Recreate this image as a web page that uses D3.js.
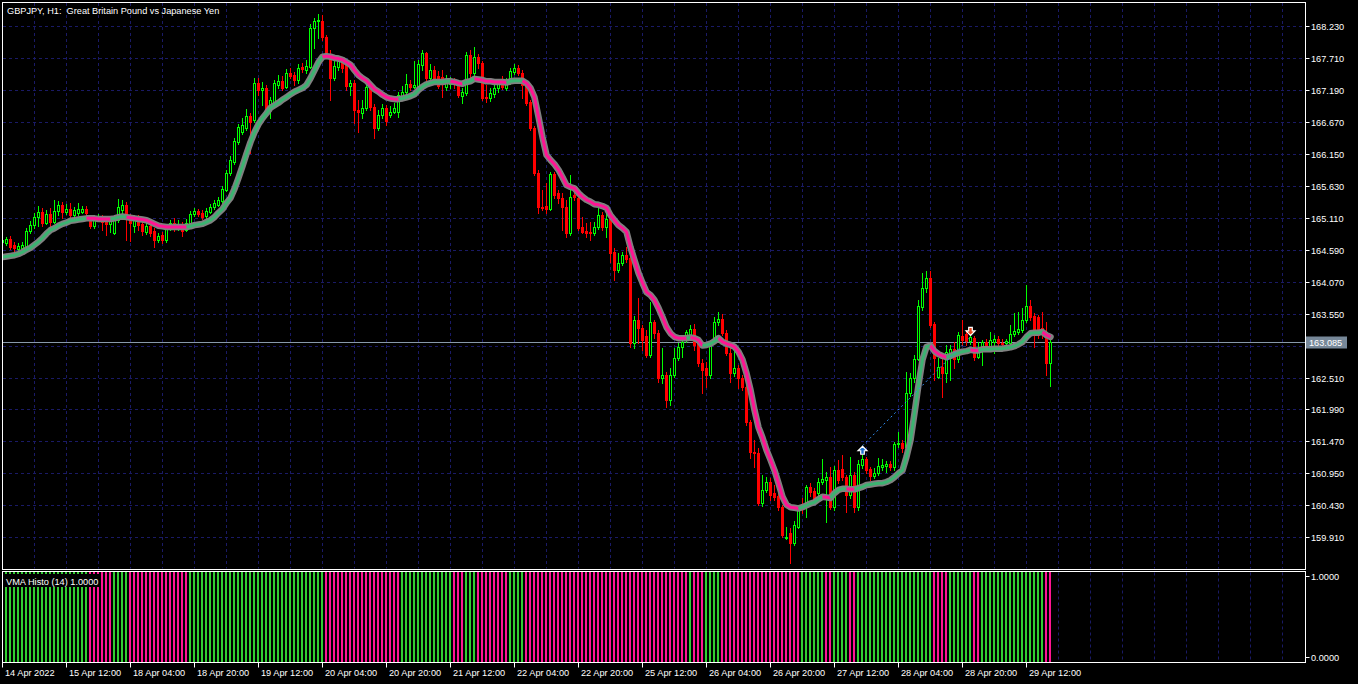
<!DOCTYPE html>
<html><head><meta charset="utf-8">
<script src="https://cdn.jsdelivr.net/npm/d3@7"></script>
<style>html,body{margin:0;padding:0;background:#000;overflow:hidden}text{font-family:"Liberation Sans",Arial,sans-serif;font-size:9.2px;fill:#fff;white-space:pre}</style>
</head><body><svg id="c" width="1358" height="684"></svg>
<script>
const symbolTitle = "GBPJPY, H1:  Great Britain Pound vs Japanese Yen";
const indicatorTitle = "VMA Histo (14) 1.0000";
const opens = [
164.72,164.70,164.76,164.67,164.60,164.62,164.62,164.89,164.99,165.12,
165.20,165.02,165.17,165.04,165.22,165.32,165.20,165.25,165.15,165.18,
165.20,165.25,165.12,164.98,165.10,165.12,165.04,165.01,164.86,165.07,
165.24,165.32,165.12,164.98,165.09,165.01,164.88,164.98,164.89,164.75,
164.83,164.75,164.96,165.02,164.94,164.99,164.91,165.02,165.17,165.22,
165.19,165.14,165.20,165.29,165.32,165.38,165.56,165.84,166.02,166.34,
166.51,166.57,166.77,166.70,167.30,167.19,167.22,166.86,166.99,167.27,
167.33,167.24,167.47,167.43,167.35,167.56,167.51,167.56,168.20,168.31,
168.31,168.05,167.77,167.38,167.56,167.66,167.60,167.25,167.30,166.86,
166.81,166.90,167.24,166.91,166.57,166.78,166.90,166.78,166.83,166.83,
167.09,167.16,167.29,167.24,167.25,167.60,167.79,167.38,167.51,167.42,
167.40,167.24,167.29,167.32,167.27,167.09,167.14,167.76,167.47,167.73,
167.63,167.07,167.06,167.12,167.22,167.32,167.22,167.32,167.48,167.55,
167.47,167.27,166.99,166.57,165.84,165.29,165.30,165.25,165.82,165.51,
165.43,165.29,164.86,165.48,165.43,164.96,164.89,164.88,164.86,164.96,
165.15,164.96,165.10,164.55,164.26,164.37,164.50,164.45,163.07,163.45,
163.32,163.19,162.88,163.41,163.23,162.50,162.55,162.14,162.55,162.83,
163.01,163.12,163.20,163.30,163.07,162.75,162.67,162.55,163.12,163.41,
163.46,163.23,162.91,162.58,162.67,162.50,162.36,161.79,161.30,161.28,
160.47,160.68,160.81,160.63,160.58,160.40,159.90,159.98,159.82,160.08,
160.40,160.40,160.73,160.66,160.63,160.81,160.84,160.89,160.40,161.00,
161.02,160.89,160.60,160.92,160.40,161.09,161.18,161.02,160.91,160.96,
161.05,161.07,161.10,161.05,161.43,161.44,161.38,162.26,162.50,162.81,
163.66,163.97,164.13,163.38,162.52,162.68,162.58,162.91,162.97,162.81,
163.19,163.22,163.11,163.15,162.84,162.96,163.09,163.01,163.09,163.14,
163.07,163.07,163.07,163.22,163.25,163.28,163.45,163.67,163.51,163.49,
163.32,163.22,162.75];
const highs = [
164.78,164.80,164.81,164.72,164.70,164.72,164.94,165.06,165.19,165.30,
165.27,165.24,165.27,165.40,165.38,165.37,165.33,165.35,165.29,165.35,
165.30,165.30,165.15,165.15,165.17,165.15,165.10,165.14,165.10,165.41,
165.40,165.37,165.17,165.15,165.15,165.07,165.04,165.04,164.94,164.86,
164.88,165.01,165.07,165.10,165.07,165.04,165.09,165.22,165.27,165.25,
165.24,165.27,165.33,165.40,165.45,165.63,165.89,166.11,166.41,166.64,
166.73,166.88,166.81,167.38,167.38,167.32,167.27,167.07,167.35,167.43,
167.42,167.53,167.55,167.48,167.61,167.63,167.68,168.26,168.36,168.43,
168.41,168.08,167.84,167.68,167.74,167.71,167.64,167.35,167.35,167.03,
167.03,167.29,167.29,166.96,166.86,166.96,166.94,166.93,166.98,167.16,
167.25,167.45,167.35,167.66,167.68,167.84,167.81,167.61,167.58,167.50,
167.51,167.43,167.40,167.38,167.35,167.22,167.81,167.84,167.89,167.77,
167.66,167.27,167.22,167.29,167.37,167.42,167.38,167.55,167.61,167.60,
167.51,167.32,167.03,166.60,165.89,165.56,165.68,165.85,165.85,165.56,
165.51,165.40,165.80,165.56,165.46,165.12,165.02,165.04,165.04,165.28,
165.20,165.20,165.15,164.62,164.54,164.55,164.63,164.54,163.51,163.80,
163.36,163.28,163.74,163.45,163.28,162.99,162.60,162.67,162.99,163.07,
163.20,163.28,163.36,163.38,163.12,162.81,162.76,163.12,163.49,163.58,
163.54,163.28,163.04,162.99,162.71,162.55,162.39,161.82,161.49,161.36,
160.92,160.89,160.87,160.76,160.68,160.44,160.08,160.06,160.18,160.44,
160.55,160.76,160.79,160.71,160.87,161.18,160.97,161.05,161.07,161.17,
161.25,160.92,161.22,160.97,161.17,161.25,161.22,161.05,161.04,161.20,
161.18,161.15,161.15,161.46,161.62,161.49,162.60,162.58,162.88,163.77,
164.21,164.24,164.24,163.41,162.83,162.83,163.04,163.04,163.09,163.25,
163.45,163.28,163.23,163.19,163.09,163.12,163.14,163.25,163.20,163.19,
163.14,163.14,163.36,163.56,163.58,163.64,164.02,163.77,163.56,163.53,
163.58,163.41,163.12];
const lows = [
164.65,164.67,164.60,164.57,164.55,164.55,164.59,164.86,164.95,164.98,
164.98,165.01,164.94,165.02,165.15,165.10,165.17,165.12,165.13,165.15,
165.19,165.15,164.94,164.94,165.07,164.91,164.83,164.88,164.85,165.04,
165.19,164.75,164.73,164.88,164.91,164.83,164.85,164.81,164.63,164.72,
164.70,164.72,164.91,164.89,164.91,164.81,164.89,164.99,165.14,165.14,
165.09,165.10,165.19,165.25,165.30,165.35,165.55,165.80,165.98,166.31,
166.47,166.54,166.16,166.67,167.11,166.94,166.83,166.73,166.96,167.22,
167.19,167.22,167.38,167.27,167.30,167.48,167.47,167.55,167.87,168.03,
168.00,167.74,167.03,167.35,167.51,167.48,167.19,167.11,166.65,166.51,
166.73,166.86,166.86,166.41,166.54,166.73,166.62,166.75,166.81,166.75,
167.06,167.11,167.19,167.22,167.22,167.51,167.32,167.35,167.32,167.22,
167.07,167.19,167.22,167.22,167.07,166.98,167.11,167.35,167.43,167.55,
167.03,166.99,167.01,167.07,167.16,167.20,167.19,167.29,167.45,167.43,
167.06,166.94,166.54,165.80,165.19,165.24,165.19,165.24,165.43,165.35,
164.91,164.80,164.83,165.40,164.91,164.86,164.80,164.75,164.83,164.93,
164.91,164.80,164.39,164.10,164.23,164.34,164.39,163.01,162.99,163.07,
162.96,162.84,162.84,163.15,162.44,162.42,162.03,162.06,162.52,162.80,
162.84,163.09,163.12,162.96,162.70,162.26,162.36,162.50,163.07,163.36,
163.20,162.88,162.44,162.53,162.34,162.31,161.74,161.20,161.05,160.44,
160.42,160.65,160.52,160.52,160.35,159.91,159.88,159.49,159.79,160.06,
160.30,160.24,160.58,160.52,160.57,160.78,160.16,160.37,160.35,160.79,
160.84,160.32,160.55,160.32,160.35,161.04,160.95,160.84,160.88,160.92,
161.00,160.97,161.00,161.00,161.38,161.30,161.33,162.21,162.44,162.80,
163.61,163.90,163.33,162.47,162.50,162.19,162.44,162.47,162.66,162.76,
163.04,163.04,163.06,162.80,162.83,162.71,162.96,162.96,162.91,163.02,
163.02,163.04,163.04,163.19,163.22,163.25,163.41,163.45,163.01,163.15,
163.15,162.55,162.37];
const closes = [
164.75,164.76,164.63,164.62,164.65,164.67,164.89,164.99,165.12,165.20,
165.02,165.17,165.04,165.22,165.32,165.20,165.25,165.15,165.24,165.25,
165.25,165.19,164.98,165.10,165.12,165.04,165.01,165.09,165.07,165.29,
165.32,165.12,165.02,165.07,164.99,164.89,164.98,164.86,164.75,164.81,
164.75,164.94,165.02,164.94,165.01,164.89,165.02,165.17,165.22,165.17,
165.12,165.22,165.29,165.35,165.40,165.58,165.84,166.05,166.36,166.59,
166.62,166.77,166.67,167.30,167.19,167.22,166.86,167.03,167.30,167.33,
167.22,167.47,167.42,167.35,167.55,167.53,167.58,168.20,168.31,168.33,
168.05,167.79,167.38,167.58,167.66,167.55,167.25,167.30,166.86,166.83,
166.90,167.24,166.91,166.57,166.78,166.90,166.68,166.83,166.90,167.11,
167.16,167.29,167.24,167.27,167.61,167.79,167.38,167.51,167.37,167.25,
167.37,167.37,167.32,167.29,167.11,167.16,167.76,167.47,167.73,167.63,
167.06,167.06,167.14,167.22,167.30,167.24,167.30,167.50,167.55,167.47,
167.27,166.98,166.57,165.84,165.29,165.27,165.25,165.82,165.48,165.43,
165.29,164.86,165.45,165.45,164.94,164.88,164.86,164.86,164.96,165.15,
164.96,165.09,164.54,164.26,164.37,164.50,164.44,163.07,163.45,163.32,
163.12,162.88,163.41,163.23,162.50,162.55,162.14,162.55,162.83,163.01,
163.09,163.25,163.30,163.04,162.75,162.63,162.55,163.09,163.41,163.46,
163.23,162.91,162.58,162.67,162.50,162.36,161.79,161.30,161.28,160.47,
160.68,160.81,160.60,160.57,160.40,159.95,159.91,159.82,160.11,160.39,
160.37,160.73,160.65,160.53,160.81,160.86,160.89,160.40,161.00,160.84,
160.89,160.60,160.92,160.40,161.10,161.18,161.00,160.91,160.96,161.07,
161.09,161.10,161.05,161.43,161.44,161.36,162.26,162.50,162.81,163.67,
163.97,164.13,163.36,162.83,162.68,162.58,162.92,162.97,162.81,163.20,
163.12,163.11,163.17,162.84,162.96,163.09,163.01,163.12,163.14,163.07,
163.05,163.10,163.22,163.27,163.30,163.45,163.67,163.49,163.20,163.20,
163.28,162.75,163.085];
const vma = [
164.47,164.48,164.49,164.50,164.52,164.55,164.59,164.62,164.67,164.72,
164.78,164.85,164.91,164.94,164.98,165.01,165.03,165.06,165.07,165.08,
165.09,165.10,165.10,165.10,165.09,165.09,165.09,165.09,165.10,165.12,
165.13,165.12,165.11,165.10,165.09,165.08,165.07,165.04,165.01,164.98,
164.97,164.96,164.96,164.96,164.96,164.96,164.96,164.97,164.99,165.00,
165.01,165.04,165.07,165.12,165.19,165.25,165.35,165.43,165.58,165.76,
165.95,166.15,166.34,166.50,166.63,166.73,166.81,166.90,166.94,166.98,
167.03,167.07,167.12,167.16,167.19,167.22,167.27,167.38,167.51,167.64,
167.73,167.74,167.73,167.71,167.70,167.68,167.64,167.60,167.51,167.43,
167.38,167.34,167.27,167.20,167.16,167.11,167.07,167.05,167.04,167.04,
167.05,167.07,167.09,167.12,167.19,167.24,167.28,167.30,167.32,167.32,
167.32,167.33,167.33,167.32,167.30,167.29,167.32,167.33,167.37,167.36,
167.35,167.33,167.33,167.32,167.32,167.32,167.31,167.33,167.34,167.34,
167.34,167.30,167.22,167.07,166.75,166.42,166.13,166.05,165.98,165.89,
165.77,165.64,165.61,165.59,165.51,165.45,165.40,165.37,165.33,165.32,
165.30,165.27,165.15,165.07,164.99,164.94,164.88,164.63,164.42,164.21,
164.05,163.90,163.85,163.77,163.64,163.49,163.33,163.23,163.17,163.15,
163.15,163.15,163.16,163.15,163.12,163.03,163.04,163.06,163.10,163.15,
163.09,163.06,163.04,163.01,162.93,162.80,162.58,162.31,161.98,161.70,
161.53,161.33,161.17,161.00,160.79,160.57,160.44,160.40,160.39,160.38,
160.40,160.43,160.46,160.48,160.53,160.57,160.56,160.55,160.63,160.68,
160.70,160.70,160.69,160.69,160.71,160.73,160.76,160.77,160.78,160.79,
160.79,160.81,160.84,160.89,160.95,161.00,161.22,161.49,161.93,162.39,
162.80,163.01,163.03,162.94,162.89,162.86,162.84,162.86,162.89,162.91,
162.93,162.94,162.96,162.95,162.95,162.97,162.97,162.97,162.98,162.98,
162.98,162.99,163.00,163.02,163.05,163.09,163.17,163.23,163.24,163.24,
163.25,163.20,163.17];
// 1 = VMA rising (green), 0 = VMA falling (pink)
const vmaDir = [
1,1,1,1,1,1,1,1,1,1, 1,1,1,1,1,1,1,1,1,1, 1,1,0,0,0,0,0,0,1,1, 1,1,0,0,0,0,0,0,0,0,
0,0,0,0,0,0,0,1,1,1, 1,1,1,1,1,1,1,1,1,1, 1,1,1,1,1,1,1,1,1,1, 1,1,1,1,1,1,1,1,1,1,
1,0,0,0,0,0,0,0,0,0, 0,0,0,0,0,0,0,0,0,0, 1,1,1,1,1,1,1,1,1,1, 1,1,1,0,0,0,1,1,1,0,
0,0,0,0,0,0,0,1,1,1, 1,0,0,0,0,0,0,0,0,0, 0,0,0,0,0,0,0,0,0,0, 0,0,0,0,0,0,0,0,0,0,
0,0,0,0,0,0,0,0,0,0, 0,0,1,0,0,0,1,1,1,1, 0,0,0,0,0,0,0,0,0,0, 0,0,0,0,0,0,0,0,0,0,
1,1,1,1,1,1,0,0,1,1, 1,1,0,0,1,1,1,1,1,1, 1,1,1,1,1,1,1,1,1,1, 1,1,1,0,0,0,0,1,1,1,
1,1,1,0,0,1,1,1,1,1, 1,1,1,1,1,1,1,1,1,1, 1,0,0];
const histValue = 1;
const timeLabels = ["14 Apr 2022","15 Apr 12:00","18 Apr 04:00","18 Apr 20:00","19 Apr 12:00","20 Apr 04:00","20 Apr 20:00","21 Apr 12:00","22 Apr 04:00","22 Apr 20:00","25 Apr 12:00","26 Apr 04:00","26 Apr 20:00","27 Apr 12:00","28 Apr 04:00","28 Apr 20:00","29 Apr 12:00"];
const timeLabelBars = [0,16,32,48,64,80,96,112,128,144,160,176,192,208,224,240,256];
const priceGrid = [168.23,167.71,167.19,166.67,166.15,165.63,165.11,164.59,164.07,163.55,163.03,162.51,161.99,161.47,160.95,160.43,159.91];
const priceLabels = [168.23,167.71,167.19,166.67,166.15,165.63,165.11,164.59,164.07,163.55,162.51,161.99,161.47,160.95,160.43,159.91];
const currentPrice = 163.085;
const histLabels = [1, 0];
const tradeOpen = {bar: 215, price: 161.40};
const tradeClose = {bar: 242, price: 163.17};

const W = 1358, H = 684;
const L = 2.5, R = 1305.5, T = 2.5, B = 569.5, ST = 571.5, SB = 662.5;
const svg = d3.select("#c");
svg.append("rect").attr("width", W).attr("height", H).attr("fill", "#000");

const x = d3.scaleLinear().domain([0, 262]).range([2, 1050]);
const y = d3.scaleLinear().domain([159.91, 168.23]).range([537.3, 26]);
const yh = d3.scaleLinear().domain([0, 1]).range([663, 572]);
const yhLab = d3.scaleLinear().domain([0, 1]).range([657, 576]);
const px = v => Math.round(v) + 0.5;

const defs = svg.append("defs");
defs.append("clipPath").attr("id", "cm").append("rect").attr("x", 3).attr("y", 3).attr("width", R - 3).attr("height", B - 3);
defs.append("clipPath").attr("id", "cs").append("rect").attr("x", 3).attr("y", ST + 0.5).attr("width", R - 3).attr("height", SB - ST - 1);

const gridColor = "#1a1a66";
const gGrid = svg.append("g").attr("stroke", gridColor).attr("stroke-dasharray", "3,3");
gGrid.selectAll("line.h").data(priceGrid).join("line").attr("class", "h")
  .attr("x1", 3).attr("x2", R - 1).attr("y1", d => px(y(d))).attr("y2", d => px(y(d)));
const vBars = d3.range(8, 321, 8);
gGrid.selectAll("line.v").data(vBars).join("line").attr("class", "v")
  .attr("x1", d => px(x(d))).attr("x2", d => px(x(d))).attr("y1", 3).attr("y2", B - 1);
gGrid.selectAll("line.v2").data(vBars).join("line").attr("class", "v2")
  .attr("x1", d => px(x(d))).attr("x2", d => px(x(d))).attr("y1", ST + 1).attr("y2", SB - 1);

// current price line
svg.append("line").attr("x1", 3).attr("x2", R).attr("y1", px(y(currentPrice))).attr("y2", px(y(currentPrice)))
  .attr("stroke", "#8899aa");

// candles
const gc = svg.append("g").attr("clip-path", "url(#cm)");
d3.range(opens.length).forEach(i => {
  const cx = Math.round(x(i));
  const o = opens[i], c = closes[i];
  const up = c >= o;
  const col = up ? "#00ff00" : "#ff0000";
  gc.append("line").attr("x1", cx + 0.5).attr("x2", cx + 0.5)
    .attr("y1", Math.round(y(highs[i]))).attr("y2", Math.round(y(lows[i])) + 1).attr("stroke", col);
  const yt = Math.round(y(Math.max(o, c))), yb = Math.round(y(Math.min(o, c)));
  if (up) {
    gc.append("rect").attr("x", cx - 0.5).attr("y", yt + 0.5).attr("width", 2).attr("height", Math.max(yb - yt, 0))
      .attr("fill", "#000").attr("stroke", col);
  } else {
    gc.append("rect").attr("x", cx - 1).attr("y", yt).attr("width", 3).attr("height", Math.max(yb - yt + 1, 1))
      .attr("fill", col);
  }
});

// VMA line
const gv = svg.append("g").attr("clip-path", "url(#cm)");
const line = d3.line().x(i => x(i) + 0.5).y(i => y(vma[i]));
gv.append("path").attr("d", line(d3.range(vma.length))).attr("fill", "none")
  .attr("stroke", "#808080").attr("stroke-width", 6.5).attr("stroke-linejoin", "round").attr("stroke-linecap", "round");
let start = 0;
for (let i = 1; i <= vma.length; i++) {
  if (i === vma.length || vmaDir[i] !== vmaDir[start]) {
    const pts = d3.range(Math.max(start - 1, 0), i);
    gv.append("path").attr("d", line(pts)).attr("fill", "none")
      .attr("stroke", vmaDir[start] ? "#3cb371" : "#ff1493").attr("stroke-width", 3)
      .attr("stroke-linejoin", "round");
    start = i;
  }
}

// trade markers
svg.append("line").attr("x1", x(tradeOpen.bar) + 0.5).attr("y1", y(tradeOpen.price))
  .attr("x2", x(tradeClose.bar) + 0.5).attr("y2", y(tradeClose.price))
  .attr("stroke", "#2f8cf0").attr("stroke-dasharray", "2,3");
svg.append("path").attr("transform", `translate(${x(tradeOpen.bar) + 0.5},${y(tradeOpen.price) + 5})`)
  .attr("d", "M0,-4.5L4.5,0L1.8,0L1.8,3.5L-1.8,3.5L-1.8,0L-4.5,0Z")
  .attr("fill", "#1c6fd0").attr("stroke", "#fff").attr("stroke-width", 1.2);
svg.append("path").attr("transform", `translate(${x(tradeClose.bar) + 0.5},${y(tradeClose.price) - 6})`)
  .attr("d", "M0,4.5L4.5,0L1.8,0L1.8,-3.5L-1.8,-3.5L-1.8,0L-4.5,0Z")
  .attr("fill", "#e8461c").attr("stroke", "#fff").attr("stroke-width", 1.2);

// histogram
const gh = svg.append("g").attr("clip-path", "url(#cs)");
gh.selectAll("rect").data(d3.range(vmaDir.length)).join("rect")
  .attr("x", i => Math.round(x(i)) - 1).attr("width", 2)
  .attr("y", yh(histValue)).attr("height", yh(0) - yh(histValue))
  .attr("fill", i => vmaDir[i] ? "#32cd32" : "#ff1493");

// frames
svg.append("rect").attr("x", L).attr("y", T).attr("width", R - L).attr("height", B - T).attr("fill", "none").attr("stroke", "#fff");
svg.append("rect").attr("x", L).attr("y", ST).attr("width", R - L).attr("height", SB - ST).attr("fill", "none").attr("stroke", "#fff");

// price axis
const ga = svg.append("g");
priceLabels.forEach(p => {
  const yy = px(y(p));
  ga.append("line").attr("x1", R).attr("x2", R + 4).attr("y1", yy).attr("y2", yy).attr("stroke", "#fff");
  ga.append("text").attr("x", 1311).attr("y", yy + 3.5).text(p.toFixed(3));
});
const cy = px(y(currentPrice));
ga.append("rect").attr("x", 1306).attr("y", cy - 6).attr("width", 41).attr("height", 12).attr("fill", "#778899");
ga.append("text").attr("x", 1309).attr("y", cy + 3.5).text(currentPrice.toFixed(3));

histLabels.forEach(v => {
  const yy = px(yhLab(v));
  ga.append("line").attr("x1", R).attr("x2", R + 4).attr("y1", yy).attr("y2", yy).attr("stroke", "#fff");
  ga.append("text").attr("x", 1311).attr("y", yy + 3.5).text(v.toFixed(4));
});

// time axis
timeLabelBars.forEach((b, k) => {
  const xx = px(x(b));
  ga.append("line").attr("x1", xx).attr("x2", xx).attr("y1", SB).attr("y2", SB + 5).attr("stroke", "#fff");
  ga.append("text").attr("x", xx + 2.5).attr("y", 676).text(timeLabels[k]);
});

// titles
svg.append("text").attr("x", 7).attr("y", 13.5).text(symbolTitle);
const lg = svg.append("g");
const lbg = lg.append("rect").attr("fill", "#000");
const tb = lg.append("text").attr("x", 6).attr("y", 584.5).text(indicatorTitle);
const bb = tb.node().getBBox();
lbg.attr("x", bb.x - 1.5).attr("y", 574).attr("width", bb.width + 3).attr("height", 13);
</script></body></html>
